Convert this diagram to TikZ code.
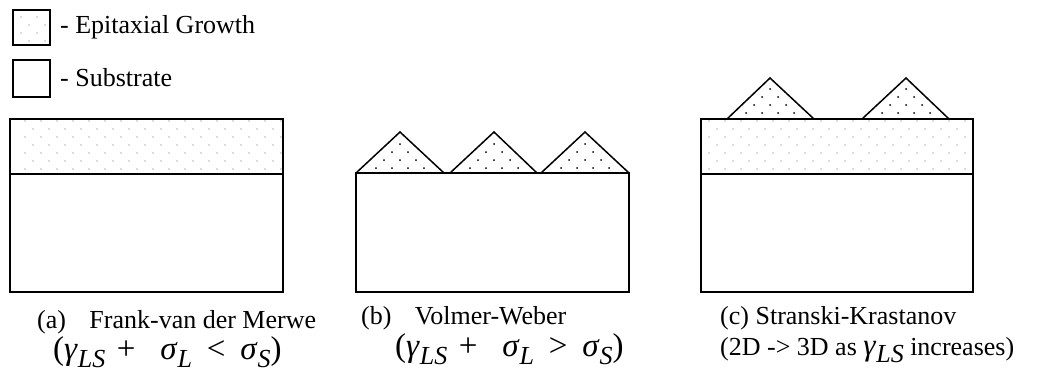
\documentclass[tikz,border=0pt]{standalone}
\usepackage{fontspec}
\setmainfont{Liberation Serif}
\newcommand{\lowsub}[1]{\raisebox{-0.25em}{\fontsize{26}{26}\selectfont\textit{#1}}}
\newcommand{\gLS}{\textit{γ}\lowsub{LS}}
\newcommand{\sigL}{\textit{σ}\lowsub{L}}
\newcommand{\sigS}{\textit{σ}\lowsub{S}}
\definecolor{filmgray}{gray}{0.72}
\tikzset{
  layer/.style={draw, line width=1.5pt},
  island/.style={draw, line width=1.5pt, line join=miter},
  caption/.style={anchor=west, inner sep=0pt, font=\fontsize{26}{30}\selectfont},
  formula/.style={anchor=west, inner sep=0pt, font=\fontsize{33}{36}\selectfont},
}
% gray dot field: #1 = x0, #2 = y0, #3 = columns, #4 = rows
\newcommand{\filmfield}[4]{%
  \foreach \r in {0,...,#4}
    \foreach \c in {0,...,#3}
      \fill[filmgray] ({#1+16*\c+8*mod(\r,2)}, {#2+8*\r}) circle (0.9pt);
}
% black dots of an island: #1 = peak x, #2 = first row y
\newcommand{\islandfield}[2]{%
  \foreach \r in {0,...,4}
    \foreach \c in {-4,...,4}
      \fill[black] ({#1+16*\c+8*mod(\r,2)}, {#2+8*\r}) circle (1pt);
}
\begin{document}
\begin{tikzpicture}[x=1pt, y=-1pt]
 \useasboundingbox (0,0) rectangle (1038,376);

 % legend
 \begin{scope}
  \clip (13,10) rectangle (50,45);
  \filmfield{21}{17}{3}{4}
 \end{scope}
 \draw[layer] (13,10) rectangle (50,45);
 \node[caption] (legfilm) at (60,27) {- Epitaxial Growth};
 \draw[layer] (13,60) rectangle (50,97);
 \node[caption] (legsub) at (60,78) {- Substrate};

 % (a) layer growth
 \begin{scope}
  \clip (10,119) rectangle (283,174);
  \filmfield{25}{121}{17}{7}
 \end{scope}
 \draw[layer] (10,119) rectangle (283,174);
 \draw[layer] (10,174) rectangle (283,292);

 % (b) island growth
 \foreach \px/\xl/\xr in {400/356/444, 494/450/537, 585/541/629} {
  \begin{scope}
   \clip (\xl,173) -- (\px,132) -- (\xr,173) -- cycle;
   \islandfield{\px}{144}
  \end{scope}
  \draw[island] (\xl,173) -- (\px,132) -- (\xr,173);
 }
 \draw[layer] (356,173) rectangle (629,292);

 % (c) layer plus islands
 \begin{scope}
  \clip (701,119) rectangle (973,174);
  \filmfield{709}{121}{17}{7}
 \end{scope}
 \foreach \px/\xl/\xr in {770/727/814, 906/862/949} {
  \begin{scope}
   \clip (\xl,119) -- (\px,78) -- (\xr,119) -- cycle;
   \islandfield{\px}{89}
  \end{scope}
  \draw[island] (\xl,119) -- (\px,78) -- (\xr,119);
 }
 \draw[layer] (701,119) rectangle (973,174);
 \draw[layer] (701,174) rectangle (973,292);

 % captions
 \node[caption] (capA) at (37,322) {(a)\hspace{0.9em}Frank-van der Merwe};
 \node[formula] (fmA) at (53,352) {(\gLS\hspace{0.35em}+\hspace{0.75em}\sigL\hspace{0.45em}<\hspace{0.45em}\sigS)};
 \node[caption] (capB) at (361,318) {(b)\hspace{0.9em}Volmer-Weber};
 \node[formula] (fmB) at (395,349) {(\gLS\hspace{0.35em}+\hspace{0.75em}\sigL\hspace{0.45em}>\hspace{0.45em}\sigS)};
 \node[caption] (capC) at (720,318) {(c) Stranski-Krastanov};
 \node[caption] (fmC) at (720,350) {(2D -> 3D as {\fontsize{31}{32}\selectfont\gLS} increases)};
\end{tikzpicture}
\end{document}
